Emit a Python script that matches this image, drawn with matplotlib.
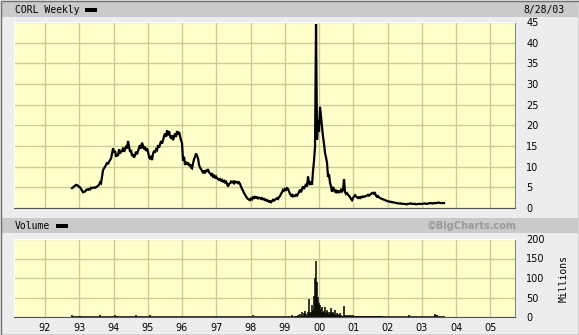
import numpy as np
import matplotlib.pyplot as plt
from matplotlib.patches import Rectangle

# weekly-ish closes, CORL (Oct 1992 .. Aug 2003)
price = [
    4.8, 5.0, 5.2, 5.4, 5.6, 5.5, 5.4, 5.1, 5.0, 4.6,
    4.2, 3.8, 3.9, 4.0, 4.3, 4.5, 4.4, 4.6, 4.5, 4.9,
    4.8, 4.9, 5.0, 4.9, 5.0, 5.2, 5.4, 5.6, 6.2, 6.0,
    7.6, 9.2, 9.6, 10.0, 10.4, 11.0, 10.6, 11.2, 11.6, 12.0,
    13.2, 14.4, 13.4, 13.8, 12.4, 13.0, 12.6, 14.2, 13.2, 13.6,
    13.8, 14.6, 13.6, 14.2, 15.0, 14.4, 16.2, 14.8, 13.6, 14.0,
    12.6, 13.0, 12.2, 12.8, 13.6, 13.0, 13.8, 14.6, 15.2, 14.4,
    15.8, 15.0, 14.2, 14.8, 13.8, 14.4, 13.6, 12.4, 11.8, 12.6,
    11.6, 13.2, 13.8, 13.4, 14.2, 14.0, 15.2, 14.6, 15.4, 16.2,
    15.6, 16.4, 17.4, 18.0, 17.2, 18.8, 17.6, 18.6, 17.4, 16.8,
    17.6, 16.4, 17.2, 18.0, 17.2, 18.6, 17.8, 18.4, 17.4, 16.4,
    15.6, 11.4, 12.4, 10.4, 11.2, 10.6, 11.0, 10.2, 10.6, 9.8,
    9.6, 10.8, 11.8, 12.4, 13.2, 12.6, 12.0, 10.4, 9.8, 9.4,
    9.0, 8.6, 9.0, 8.4, 9.2, 8.8, 9.4, 8.6, 8.4, 8.0,
    8.4, 7.6, 7.8, 7.2, 7.6, 7.2, 7.0, 6.8, 7.0, 6.6,
    6.8, 6.4, 6.6, 6.2, 6.4, 5.8, 5.2, 5.8, 6.0, 6.4,
    6.2, 6.4, 6.0, 6.4, 6.2, 6.3, 6.0, 6.2, 5.8, 5.2,
    4.6, 4.2, 3.6, 3.2, 2.8, 2.4, 2.2, 2.0, 1.9, 2.3,
    2.1, 2.6, 2.4, 2.7, 2.5, 2.6, 2.3, 2.5, 2.4, 2.2,
    2.4, 2.1, 2.2, 1.9, 2.0, 1.7, 1.8, 1.5, 1.6, 1.4,
    1.7, 2.0, 1.8, 2.0, 2.2, 2.4, 2.2, 2.6, 2.9, 3.4,
    3.8, 4.4, 4.2, 4.6, 4.4, 4.8, 4.6, 4.0, 3.4, 3.0,
    3.2, 2.8, 3.0, 2.9, 3.2, 3.0, 3.4, 3.9, 4.4, 3.8,
    4.6, 5.2, 4.6, 5.2, 5.8, 5.2, 7.6, 6.0, 5.6, 6.4,
    5.6, 9.0, 11.5, 14.8, 44.5, 16.5, 21.3, 18.5, 24.5, 22.0,
    19.6, 17.2, 15.5, 13.3, 12.2, 10.9, 7.5, 8.2, 6.1, 5.2,
    3.9, 5.1, 4.4, 4.0, 4.4, 3.6, 4.2, 3.8, 3.9, 4.4,
    4.0, 4.4, 7.0, 3.9, 3.4, 3.6, 3.2, 3.0, 2.6, 2.2,
    1.9, 2.4, 2.8, 3.1, 2.8, 2.6, 2.4, 2.6, 2.4, 2.7,
    2.6, 2.8, 2.7, 2.8, 2.9, 3.0, 3.2, 3.0, 3.2, 3.4,
    3.6, 3.7, 3.4, 3.6, 3.0, 2.7, 2.9, 2.6, 2.4, 2.3,
    2.2, 2.1, 2.0, 1.9, 1.8, 1.7, 1.6, 1.6, 1.5, 1.5,
    1.4, 1.4, 1.3, 1.3, 1.2, 1.2, 1.1, 1.1, 1.1, 1.1,
    1.0, 1.0, 1.0, 1.0, 0.9, 0.9, 1.0, 1.0, 1.1, 1.1,
    1.0, 1.0, 1.0, 1.0, 0.9, 0.9, 1.0, 1.0, 1.0, 1.0,
    1.0, 1.0, 1.1, 1.1, 1.0, 1.0, 1.1, 1.1, 1.2, 1.2,
    1.1, 1.1, 1.2, 1.2, 1.2, 1.2, 1.3, 1.3, 1.2, 1.2,
    1.2, 1.2, 1.2,
]

# volume in millions, same dates as price
volume = [
    4, 1.5, 1, 1.5, 1, 1.5, 1, 1.5, 3, 1.5,
    1, 1.5, 1, 1.5, 1, 1.5, 1, 1.5, 1, 1.5,
    1, 1.5, 1, 1.5, 1, 1.5, 1, 1.5, 4, 1.5,
    1, 1.5, 1, 3, 1, 1.5, 1, 1.5, 1, 1.5,
    1, 1.5, 1, 5, 3, 1.5, 1, 1.5, 1, 1.5,
    1, 1.5, 1, 1.5, 1, 1.5, 1, 1.5, 1, 1.5,
    1, 1.5, 1, 3, 5, 1.5, 1, 1.5, 1, 1.5,
    1, 1.5, 1, 1.5, 1, 1.5, 1, 1.5, 4, 1.5,
    1, 1.5, 1, 1.5, 1, 1.5, 1, 1.5, 1, 1.5,
    1, 1.5, 1, 1.5, 1, 1.5, 1, 1.5, 1, 1.5,
    1, 1.5, 1, 1.5, 1, 1.5, 1, 1.5, 1, 1.5,
    1, 3, 1, 1.5, 1, 1.5, 1, 1.5, 1, 1.5,
    1, 1.5, 1, 1.5, 1, 1.5, 1, 1.5, 1, 1.5,
    1, 1.5, 1, 1.5, 1, 1.5, 1, 1.5, 1, 1.5,
    1, 1.5, 1, 1.5, 1, 3, 1, 1.5, 1, 1.5,
    1, 1.5, 1, 1.5, 1, 1.5, 1, 1.5, 1, 1.5,
    1, 1.5, 1, 1.5, 1, 1.5, 1, 1.5, 1, 1.5,
    1, 1.5, 1, 1.5, 1, 1.5, 1, 1.5, 1, 1.5,
    1, 4, 1, 1.5, 1, 1.5, 1, 1.5, 1, 1.5,
    1, 1.5, 1, 1.5, 1, 1.5, 1, 1.5, 1, 1.5,
    1, 1.5, 1, 1.5, 1, 1.5, 1, 1.5, 1, 1.5,
    1, 1.5, 1, 3, 1, 1.5, 1, 1.5, 1, 1.5,
    5, 1.5, 1, 3, 1.5, 2, 6, 2, 8, 2,
    13, 2, 10, 15, 8, 3, 12, 46, 10, 14,
    31, 18, 55, 100, 143, 90, 51, 36, 30, 20,
    26, 12, 15, 26, 10, 18, 12, 8, 14, 23,
    10, 12, 8, 18, 6, 10, 8, 5, 10, 6,
    3, 3, 28, 6, 2, 4, 2, 5, 2, 6,
    2, 5, 2, 3, 2, 2, 2, 2, 2, 2,
    2, 2, 2, 2, 3, 2, 2, 2, 2, 2,
    2, 2, 2, 2, 2, 2, 3, 2, 2, 2,
    1.5, 1, 1.5, 1, 1.5, 1, 1.5, 1, 1.5, 1,
    1.5, 1, 1.5, 1, 1.5, 1, 1.5, 1, 1.5, 1,
    1.5, 1, 1.5, 1, 1.5, 1, 1.5, 5, 1.5, 1,
    1.5, 1, 1.5, 1, 1.5, 1, 1.5, 1, 1.5, 1,
    1.5, 1, 1.5, 1, 1.5, 1, 1.5, 1, 1.5, 1,
    1.5, 1, 1.5, 8, 4, 5, 1.5, 1, 1.5, 1,
    1.5, 1, 1.5,
]

first_date = 1992.79   # mid Oct 1992
last_date = 2003.65    # 8/28/03
years = np.linspace(first_date, last_date, len(price))
year_ticks = list(range(1992, 2006))
year_labels = ['%02d' % (y % 100) for y in year_ticks]
price_ticks = list(range(0, 50, 5))
vol_ticks = [0, 50, 100, 150, 200]

W, H = 579, 335
bg = '#ededed'
bar_grey = '#cacaca'
plot_bg = '#ffffcc'
grid_col = '#cccc99'

fig = plt.figure(figsize=(W / 100, H / 100), dpi=100, facecolor=bg)


def px_rect(x0, y0, x1, y1, **kw):
    # rectangle given in image pixels (top-left origin)
    fig.patches.append(Rectangle((x0 / W, 1 - y1 / H), (x1 - x0) / W, (y1 - y0) / H,
                                 transform=fig.transFigure, **kw))


# header bars
px_rect(1, 1, 578, 17, facecolor=bar_grey, edgecolor='none')
px_rect(1, 218, 578, 233, facecolor=bar_grey, edgecolor='none')
px_rect(85, 8, 97, 12, facecolor='black', edgecolor='none')
px_rect(56, 224, 68, 228, facecolor='black', edgecolor='none')
# outer frame
px_rect(0.5, 0.5, 578.5, 334.5, facecolor='none', edgecolor='#707070', lw=1)

mono = 'DejaVu Sans Mono'
fig.text(15 / W, 1 - 10 / H, 'CORL Weekly', family=mono, fontsize=7, va='center', ha='left')
fig.text(565 / W, 1 - 10 / H, '8/28/03', family=mono, fontsize=7, va='center', ha='right')
fig.text(15 / W, 1 - 226 / H, 'Volume', family=mono, fontsize=7, va='center', ha='left')
fig.text(516 / W, 1 - 226 / H, '\u00a9BigCharts.com', fontsize=7, fontweight='bold',
         color='#999999', va='center', ha='right')
fig.text(564 / W, 1 - 278 / H, 'Millions', family=mono, fontsize=7, rotation=90,
         va='center', ha='center')

left, right = 14, 515
ax = fig.add_axes([left / W, 1 - 208 / H, (right - left) / W, (208 - 22) / H])
axv = fig.add_axes([left / W, 1 - 317 / H, (right - left) / W, (317 - 239) / H])

xmin = 1992 + (left - 45) / 34.25
xmax = 1992 + (right - 45) / 34.25

for a in (ax, axv):
    a.set_facecolor(plot_bg)
    a.set_xlim(xmin, xmax)
    a.set_xticks(year_ticks)
    a.grid(True, color=grid_col, lw=1)
    a.set_axisbelow(True)
    a.yaxis.tick_right()
    a.tick_params(length=0, labelsize=7, pad=8)
    a.spines['top'].set_color('white')
    a.spines['left'].set_color('white')
    a.spines['bottom'].set_color('#555555')
    a.spines['right'].set_color('#888888')

ax.plot(years, price, color='black', lw=1.6, solid_joinstyle='miter')
ax.set_ylim(0, 45)
ax.set_yticks(price_ticks)
ax.set_xticklabels([])

axv.vlines(years, 0, volume, color='black', lw=1.1)
axv.set_ylim(0, 200)
axv.set_yticks(vol_ticks)
axv.set_xticklabels(year_labels)
axv.tick_params(axis='x', pad=4)

fig.savefig('out.png', dpi=100, facecolor=bg)
